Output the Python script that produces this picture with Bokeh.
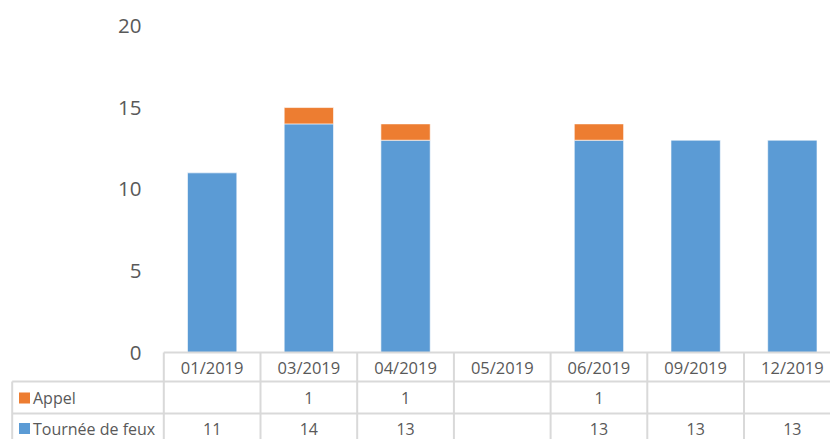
from bokeh.plotting import figure
from bokeh.models import Range1d
from bokeh.core.properties import value
from bokeh.embed import file_html
from bokeh.resources import INLINE

# ---- data ----
categories = ["01/2019", "03/2019", "04/2019", "05/2019", "06/2019", "09/2019", "12/2019"]
tournee = [11, 14, 13, None, 13, 13, 13]
appel = [None, 1, 1, None, 1, None, None]
series_names = ["Appel", "Tournée de feux"]
y_ticks = [0, 5, 10, 15, 20]

# ---- style ----
BLUE = "#5B9BD5"
ORANGE = "#ED7D31"
GRID = "#D9D9D9"
TXT = "#595959"
FONT = value("Open Sans")

W, H = 830, 439
OFF = 0          # page offset of the figure
COL = 96.7       # px per category column
X0 = 163.3       # x of first column's left edge
Y0 = 352.0       # y of value 0
PXU = 16.33      # px per value unit


def dx(px):
    return (px - X0) / COL


def dy(py):
    return (Y0 - py) / PXU


p = figure(width=W, height=H,
           x_range=Range1d(dx(OFF), dx(OFF + W)),
           y_range=Range1d(dy(OFF + H), dy(OFF)),
           output_backend="svg", toolbar_location=None, min_border=0)
p.axis.visible = False
p.grid.visible = False
p.outline_line_color = None
p.background_fill_color = "white"
p.border_fill_color = "white"

n = len(categories)
xs = [i + 0.5 for i in range(n)]
BW = 0.51

# blue bars
bx = [x for x, v in zip(xs, tournee) if v is not None]
bt = [v for v in tournee if v is not None]
p.vbar(x=bx, bottom=0, top=bt, width=BW, fill_color=BLUE, line_color="white", line_width=0.6)

# orange stacked bars
ox, ob, ot = [], [], []
for x, t, a in zip(xs, tournee, appel):
    if a is not None:
        base = t or 0
        ox.append(x)
        ob.append(base)
        ot.append(base + a)
p.vbar(x=ox, bottom=ob, top=ot, width=BW, fill_color=ORANGE, line_color="white", line_width=0.6)

# y tick labels
p.text(x=[dx(141)] * len(y_ticks), y=y_ticks, text=[str(t) for t in y_ticks],
       text_align="right", text_baseline="middle", text_font=FONT,
       text_font_size="20.5px", text_color=TXT)

# ---- data table ----
right = dx(OFF + W) + 0.5
left_tbl = dx(11.7)
r1, r2 = dy(381), dy(413)
bottom = dy(OFF + H) - 0.5

# horizontal lines
p.segment(x0=[0, left_tbl, left_tbl], y0=[0, r1, r2],
          x1=[right, right, right], y1=[0, r1, r2],
          line_color=GRID, line_width=2)
# vertical lines
vx = list(range(n + 1))
p.segment(x0=vx, y0=[0] * len(vx), x1=vx, y1=[bottom] * len(vx),
          line_color=GRID, line_width=2)
p.segment(x0=[left_tbl], y0=[r1], x1=[left_tbl], y1=[bottom],
          line_color=GRID, line_width=2)

# header row: categories
p.text(x=xs, y=[dy(366.5)] * n, text=categories, text_align="center",
       text_baseline="middle", text_font=FONT, text_font_size="16.5px", text_color=TXT)

# value rows
row_y = {"Appel": dy(397.5), "Tournée de feux": dy(428)}
row_vals = {"Appel": appel, "Tournée de feux": tournee}
row_col = {"Appel": ORANGE, "Tournée de feux": BLUE}
for name in series_names:
    vals = ["" if v is None else str(v) for v in row_vals[name]]
    p.text(x=xs, y=[row_y[name]] * n, text=vals, text_align="center",
           text_baseline="middle", text_font=FONT, text_font_size="16px", text_color=TXT)
    p.scatter(x=[dx(24)], y=[row_y[name]], marker="square", size=11,
              fill_color=row_col[name], line_color=None)
    p.text(x=[dx(32.5)], y=[row_y[name]], text=[name], text_align="left",
           text_baseline="middle", text_font=FONT, text_font_size="16px", text_color=TXT)

open("out.html", "w").write(file_html(p, INLINE))
